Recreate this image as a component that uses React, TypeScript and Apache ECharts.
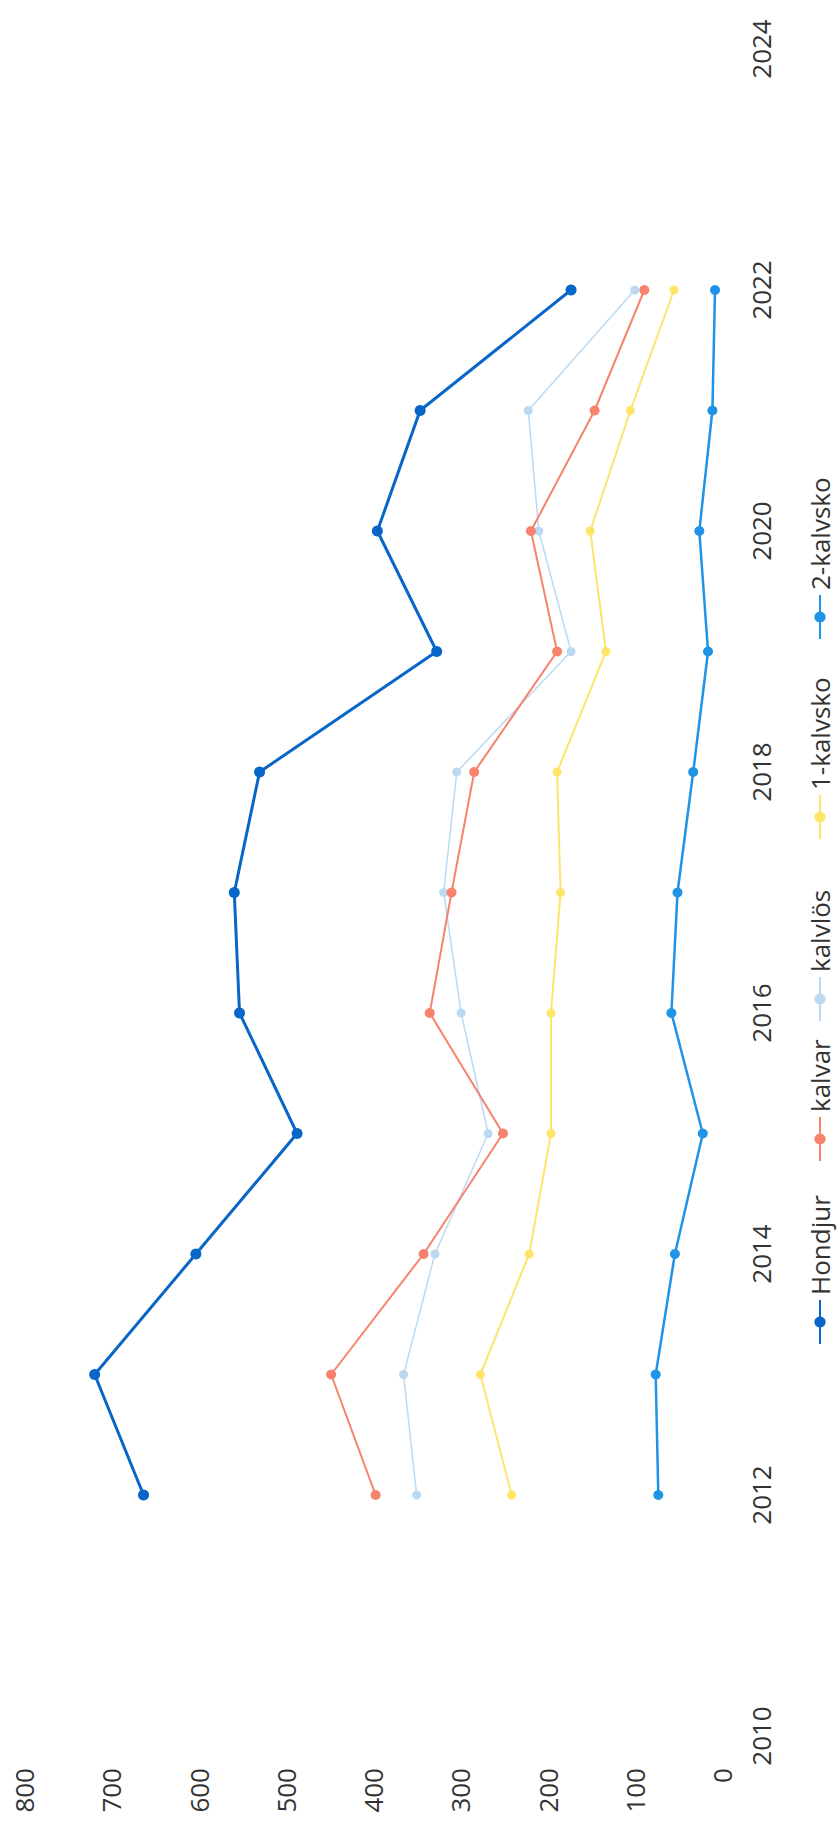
import React, { useEffect, useRef } from "react";
import * as echarts from "echarts";

const years = [2012, 2013, 2014, 2015, 2016, 2017, 2018, 2019, 2020, 2021, 2022];
const hondjur = [663, 719, 603, 487, 553, 559, 530, 327, 395, 346, 173];
const kalvar = [397, 448, 342, 251, 335, 310, 284, 189, 219, 146, 89];
const kalvlos = [350, 365, 329, 268, 299, 319, 304, 173, 210, 222, 100];
const kalvsko1 = [241, 277, 221, 196, 196, 185, 189, 133, 151, 105, 55];
const kalvsko2 = [73, 76, 54, 22, 58, 51, 33, 16, 26, 11, 8];

const seriesNames = ["Hondjur", "kalvar", "kalvlös", "1-kalvsko", "2-kalvsko"];
const seriesValues = [hondjur, kalvar, kalvlos, kalvsko1, kalvsko2];
const seriesColors = ["#0866C8", "#F7826D", "#BBDAF2", "#FFE46A", "#1F93E6"];
const lineWidths = [3, 2, 1.5, 2, 2.5];
const symbolSizes = [11, 10, 9, 9, 10];
// legend item start positions (landscape x, before rotation)
const legendLefts = [483, 666, 806, 988, 1188];

const W = 1828;
const H = 838;
const FONT = "'Open Sans', sans-serif";

export default function App() {
  const ref = useRef<HTMLDivElement>(null);
  useEffect(() => {
    if (!ref.current) return;
    const chart = echarts.init(ref.current, null, { renderer: "svg", width: W, height: H });
    chart.setOption({
      animation: false,
      backgroundColor: "#ffffff",
      grid: { left: 92, right: 49, top: 24, bottom: 116, containLabel: false },
      legend: seriesNames.map((name, i) => ({
        data: [name],
        left: legendLefts[i],
        top: 807,
        padding: 0,
        itemWidth: 44,
        itemHeight: 14,
        textStyle: { fontSize: 26, color: "#333", fontFamily: FONT },
      })),
      xAxis: {
        type: "value",
        min: 2010,
        max: 2024,
        interval: 2,
        axisLine: { show: false },
        axisTick: { show: false },
        splitLine: { show: false },
        axisLabel: {
          fontSize: 26,
          color: "#333",
          fontFamily: FONT,
          margin: 26,
          formatter: (v: number) => String(v),
        },
      },
      yAxis: {
        type: "value",
        min: 0,
        max: 800,
        interval: 100,
        axisLine: { show: false },
        axisTick: { show: false },
        splitLine: { show: false },
        axisLabel: {
          fontSize: 26,
          color: "#333",
          fontFamily: FONT,
          margin: 32,
        },
      },
      series: seriesNames.map((name, si) => ({
        name,
        type: "line",
        data: years.map((y, i) => [y, seriesValues[si][i]]),
        symbol: "circle",
        symbolSize: symbolSizes[si],
        showSymbol: true,
        lineStyle: { color: seriesColors[si], width: lineWidths[si] },
        itemStyle: { color: seriesColors[si] },
        z: 10 - si,
      })),
    });
    return () => chart.dispose();
  }, []);

  return (
    <div
      style={{
        position: "absolute",
        left: 0,
        top: 0,
        width: 838,
        height: 1828,
        overflow: "hidden",
        background: "#fff",
      }}
    >
      <div
        ref={ref}
        style={{
          position: "absolute",
          left: 0,
          top: 0,
          width: W,
          height: H,
          transformOrigin: "0 0",
          transform: `translate(0px, ${W}px) rotate(-90deg)`,
        }}
      />
    </div>
  );
}
